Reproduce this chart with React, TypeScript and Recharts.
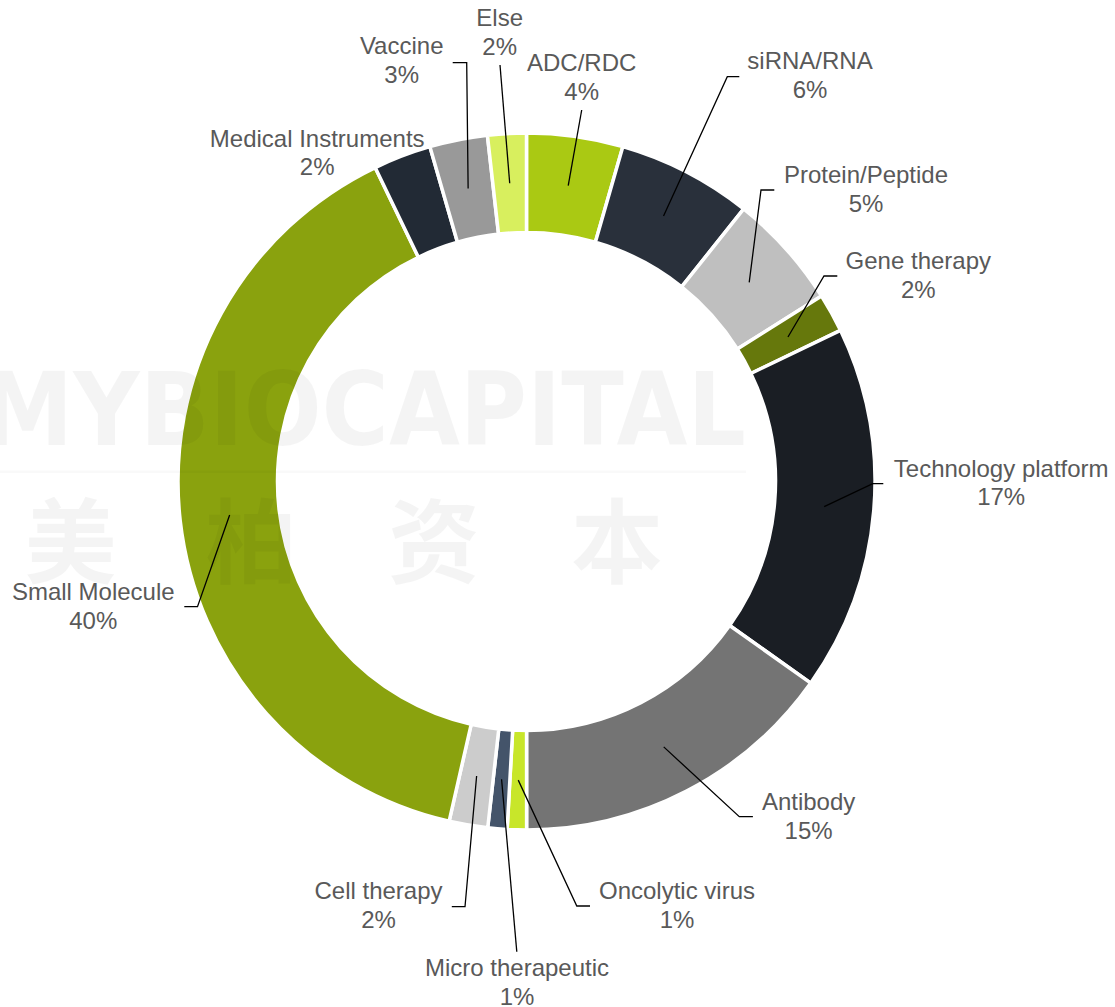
import React from 'react';
import { PieChart, Pie, Cell } from 'recharts';

const categories = [
  'ADC/RDC',
  'siRNA/RNA',
  'Protein/Peptide',
  'Gene therapy',
  'Technology platform',
  'Antibody',
  'Oncolytic virus',
  'Micro therapeutic',
  'Cell therapy',
  'Small Molecule',
  'Medical Instruments',
  'Vaccine',
  'Else',
];

// shares (percent of the ring)
const shares = [4.46, 6.25, 5.36, 1.79, 16.96, 15.18, 0.89, 0.89, 1.79, 39.29, 2.68, 2.68, 1.79];

// percentages printed on the labels
const percentLabels = ['4%', '6%', '5%', '2%', '17%', '15%', '1%', '1%', '2%', '40%', '2%', '3%', '2%'];

const colors = [
  '#AAC913',
  '#29303B',
  '#BFBFBF',
  '#66780C',
  '#1A1E24',
  '#747474',
  '#C8E62A',
  '#44546A',
  '#CCCCCC',
  '#8AA20E',
  '#222A35',
  '#999999',
  '#D8EF5E',
];

// label placement, offsets from the pie centre: text centre x, first baseline y,
// and leader-line bend points (the line starts inside the slice at its mid angle)
type LabelLayout = { tx: number; ty: number; line: number[][] | null };
const labelLayout: LabelLayout[] = [
  { tx: 55.2, ty: -410.5, line: [[55.2, -371.5]] },
  { tx: 283.5, ty: -412.5, line: [[200.8, -404.8], [212.8, -404.8]] },
  { tx: 339.5, ty: -298.2, line: [[234.5, -291.5], [247.8, -291.5]] },
  { tx: 391.8, ty: -212.5, line: [[297.5, -205.5], [310.8, -205.5]] },
  { tx: 474.7, ty: -4.8, line: [[346.2, 2.2], [356.8, 2.2]] },
  { tx: 282.1, ty: 328.5, line: [[212.8, 335.2], [226.4, 335.2]] },
  { tx: 150.5, ty: 417.5, line: [[50.3, 424.5], [63.5, 424.5]] },
  { tx: -9.5, ty: 494.5, line: [[-9.7, 470.2]] },
  { tx: -148, ty: 417.8, line: [[-61.5, 425.2], [-74.7, 425.2]] },
  { tx: -433.2, ty: 118.5, line: [[-329, 125.2], [-342.2, 125.2]] },
  { tx: -209.3, ty: -334.8, line: null },
  { tx: -124.8, ty: -427.2, line: [[-59.8, -418.8], [-73.8, -418.8]] },
  { tx: -26.8, ty: -455.5, line: [[-26.5, -416.5]] },
];

const data = categories.map((name, i) => ({ name, value: shares[i] }));

const RAD = Math.PI / 180;
const FONT = '"Liberation Sans", Arial, Helvetica, sans-serif';

const renderLabel = (props: any) => {
  const { cx, cy, midAngle, innerRadius, outerRadius, index } = props;
  const L = labelLayout[index];
  const ir = typeof innerRadius === 'number' ? innerRadius : 249;
  const or = typeof outerRadius === 'number' ? outerRadius : 348.5;
  const r = (ir + or) / 2;
  const sx = cx + r * Math.cos(-midAngle * RAD);
  const sy = cy + r * Math.sin(-midAngle * RAD);
  const pts = L.line
    ? [[sx, sy], ...L.line.map(([x, y]) => [cx + x, cy + y])]
    : null;
  return (
    <g key={`lbl-${index}`}>
      {pts && (
        <polyline
          points={pts.map((p) => `${p[0]},${p[1]}`).join(' ')}
          fill="none"
          stroke="#000"
          strokeWidth={1.3}
        />
      )}
      <text
        x={cx + L.tx}
        y={cy + L.ty}
        textAnchor="middle"
        fill="#595959"
        fontSize={24}
        fontFamily={FONT}
      >
        <tspan x={cx + L.tx}>{categories[index]}</tspan>
        <tspan x={cx + L.tx} dy={28.5}>
          {percentLabels[index]}
        </tspan>
      </text>
    </g>
  );
};

const Watermark = () => (
  <svg
    width={1115}
    height={1007}
    style={{ position: 'absolute', left: 0, top: 0, pointerEvents: 'none' }}
  >
    <text
      x={-18}
      y={445}
      fontSize={102}
      fontWeight={700}
      fontFamily='"DejaVu Sans", sans-serif'
      textLength={764}
      lengthAdjust="spacingAndGlyphs"
      fill="#000"
      fillOpacity={0.045}
    >
      MYBIOCAPITAL
    </text>
    <rect x={0} y={470.5} width={746} height={2.5} fill="#000" fillOpacity={0.025} />
    {['美', '柏', '资', '本'].map((ch, i) => (
      <text
        key={ch}
        x={[70.5, 251.5, 434, 617][i]}
        y={576}
        fontSize={92}
        fontWeight={700}
        textAnchor="middle"
        fontFamily='"Noto Sans CJK SC", sans-serif'
        fill="#000"
        fillOpacity={0.045}
      >
        {ch}
      </text>
    ))}
  </svg>
);

export default function App() {
  return (
    <div
      style={{
        position: 'absolute',
        left: 0,
        top: 0,
        width: 1115,
        height: 1007,
        background: '#fff',
        overflow: 'hidden',
      }}
    >
      <PieChart width={1115} height={1007} margin={{ top: 0, right: 0, bottom: 0, left: 0 }}>
        <Pie
          data={data}
          dataKey="value"
          nameKey="name"
          cx={526.5}
          cy={481.5}
          innerRadius={249}
          outerRadius={348.5}
          startAngle={90}
          endAngle={-270}
          stroke="#fff"
          strokeWidth={3.5}
          label={renderLabel}
          labelLine={false}
          isAnimationActive={false}
        >
          {data.map((d, i) => (
            <Cell key={d.name} fill={colors[i]} />
          ))}
        </Pie>
      </PieChart>
      <Watermark />
    </div>
  );
}
